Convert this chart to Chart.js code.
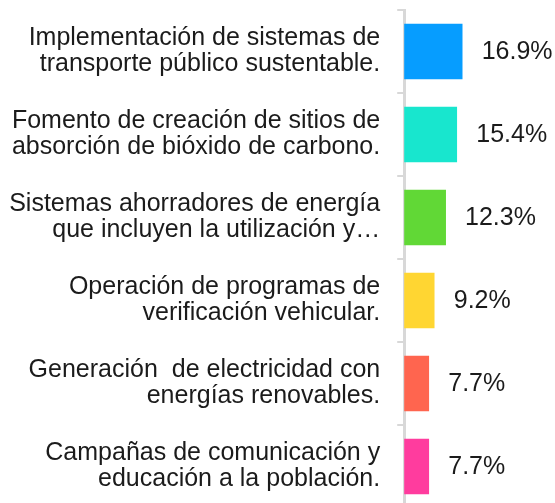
<!DOCTYPE html>
<html>
<head>
<meta charset="utf-8">
<script src="https://cdn.jsdelivr.net/npm/chart.js@4.4.1/dist/chart.umd.min.js"></script>
<style>
  html, body { margin: 0; padding: 0; background: #fff; overflow: hidden; }
  #frame { width: 555px; height: 503px; overflow: hidden; position: relative; }
  #box { width: 555px; height: 520px; position: absolute; left: 0; top: 0; }
</style>
</head>
<body>
<div id="frame"><div id="box"><canvas id="c"></canvas></div></div>
<script>
const categories = [
  ["Implementación de sistemas de", "transporte público sustentable."],
  ["Fomento de creación de sitios de", "absorción de bióxido de carbono."],
  ["Sistemas ahorradores de energía", "que incluyen la utilización y…"],
  ["Operación de programas de", "verificación vehicular."],
  ["Generación  de electricidad con", "energías renovables."],
  ["Campañas de comunicación y", "educación a la población."]
];
const values = [16.9, 15.4, 12.3, 9.2, 7.7, 7.7];
const valueLabels = values.map(v => v.toFixed(1) + "%");
const barColors = ["#069DFF", "#18E6CE", "#61D836", "#FFD632", "#FF654F", "#FF3C9E"];

const FONT = '"Liberation Sans", Arial, Helvetica, sans-serif';

const valueLabelPlugin = {
  id: "valueLabelPlugin",
  afterDatasetsDraw(chart) {
    const ctx = chart.ctx;
    const meta = chart.getDatasetMeta(0);
    ctx.save();
    ctx.font = "25px " + FONT;
    ctx.fillStyle = "#1b1b1b";
    ctx.textAlign = "left";
    ctx.textBaseline = "middle";
    meta.data.forEach((bar, i) => {
      ctx.fillText(valueLabels[i], bar.x + 19, bar.y + 1);
    });
    ctx.restore();
  }
};

new Chart(document.getElementById("c"), {
  type: "bar",
  data: {
    labels: categories,
    datasets: [{
      data: values,
      backgroundColor: barColors,
      borderColor: "#ffffff",
      borderWidth: { left: 2.5, top: 0, right: 0, bottom: 0 },
      borderSkipped: false,
      barPercentage: 1,
      categoryPercentage: 0.675
    }]
  },
  options: {
    indexAxis: "y",
    responsive: true,
    maintainAspectRatio: false,
    animation: false,
    devicePixelRatio: 1,
    layout: { padding: { top: 10, bottom: 12, left: 0, right: 0 } },
    plugins: { legend: { display: false }, tooltip: { enabled: false } },
    scales: {
      x: {
        display: false,
        min: 0.8,
        max: 42.3
      },
      y: {
        z: 1,
        afterFit(scale) {
          scale.width = 404.2;
          scale.paddingTop = 0;
          scale.paddingBottom = 0;
        },
        border: { display: true, color: "#d8d8d8", width: 3 },
        grid: {
          display: true,
          drawOnChartArea: false,
          drawTicks: true,
          tickLength: 7,
          color: "#d8d8d8",
          lineWidth: 2,
          offset: true
        },
        ticks: {
          padding: 17,
          color: "#1b1b1b",
          font: { family: FONT, size: 25, lineHeight: 1.04 }
        }
      }
    }
  },
  plugins: [valueLabelPlugin]
});
</script>
</body>
</html>
